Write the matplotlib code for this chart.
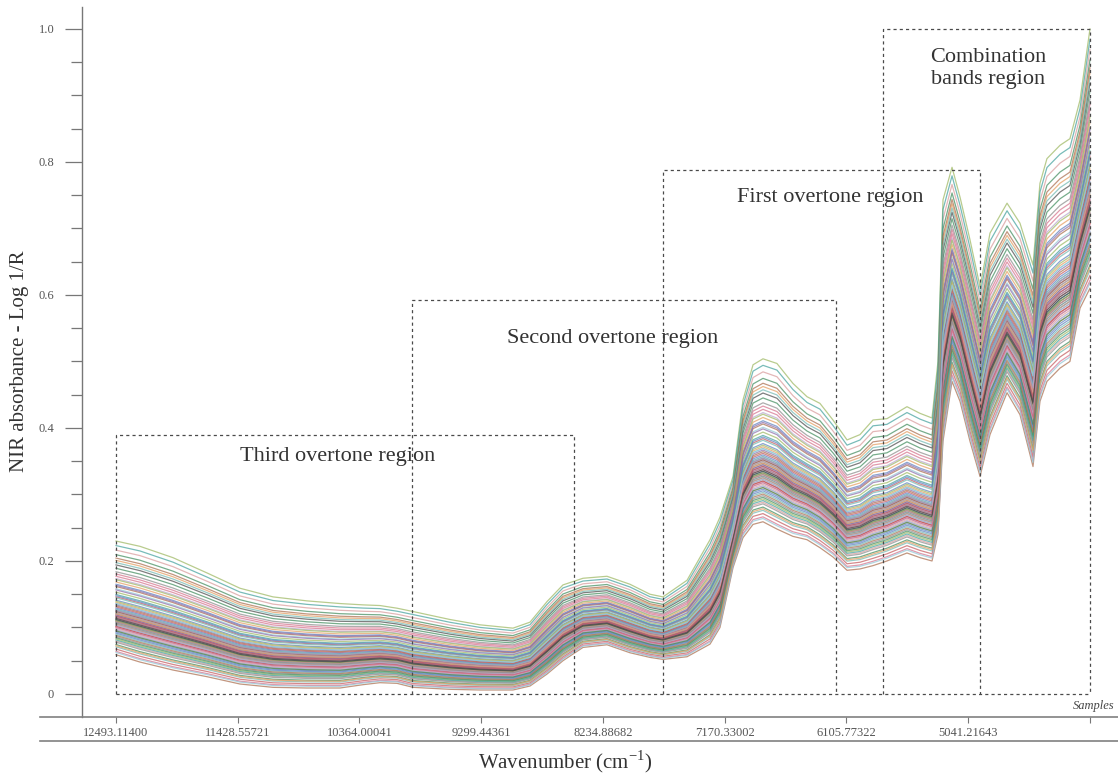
import matplotlib
matplotlib.use("Agg")
import numpy as np
import matplotlib.pyplot as plt
from matplotlib.lines import Line2D

plt.rcParams['font.family'] = ['Liberation Serif', 'DejaVu Serif']
plt.rcParams['mathtext.fontset'] = 'custom'
plt.rcParams['mathtext.rm'] = 'Liberation Serif'

# spectra knots (cm-1 / absorbance)
wavenumber = [12493, 12283, 11995, 11697, 11409, 11120, 10823, 10535, 10333, 10185,
              10036, 9896, 9573, 9310, 9022, 8873, 8724, 8585, 8410, 8200,
              7999, 7824, 7710, 7500, 7299, 7212, 7098, 7011, 6923, 6836,
              6714, 6574, 6451, 6338, 6224, 6101, 5988, 5874, 5752, 5577,
              5463, 5358, 5306, 5262, 5183, 5113, 5026, 4938, 4851, 4702,
              4589, 4475, 4414, 4353, 4239, 4152, 4064, 3977]
high_spectrum = [0.230, 0.222, 0.205, 0.182, 0.159, 0.146, 0.140, 0.136, 0.134, 0.133,
                 0.129, 0.124, 0.112, 0.104, 0.099, 0.108, 0.139, 0.164, 0.174, 0.177,
                 0.165, 0.150, 0.146, 0.171, 0.232, 0.266, 0.327, 0.442, 0.495, 0.504,
                 0.497, 0.467, 0.447, 0.437, 0.412, 0.382, 0.390, 0.412, 0.414, 0.432,
                 0.422, 0.415, 0.500, 0.743, 0.792, 0.747, 0.683, 0.612, 0.693, 0.738,
                 0.708, 0.645, 0.768, 0.805, 0.825, 0.835, 0.893, 1.000]
low_spectrum = [0.059, 0.048, 0.036, 0.026, 0.015, 0.010, 0.009, 0.009, 0.014, 0.017,
                0.016, 0.010, 0.007, 0.006, 0.006, 0.012, 0.030, 0.050, 0.070, 0.074,
                0.062, 0.055, 0.052, 0.056, 0.075, 0.100, 0.190, 0.235, 0.255, 0.259,
                0.248, 0.237, 0.232, 0.220, 0.206, 0.186, 0.188, 0.193, 0.200, 0.212,
                0.205, 0.200, 0.240, 0.380, 0.470, 0.440, 0.380, 0.327, 0.390, 0.453,
                0.420, 0.342, 0.440, 0.470, 0.490, 0.500, 0.580, 0.610]

# relative level of each sample between the lowest and highest spectrum
sample_level = [0.31, 0.05, 0.62, 0.27, 0.44, 0.12, 0.83, 0.36, 0.22, 0.55,
                0.29, 0.00, 0.40, 0.18, 0.71, 0.33, 0.25, 0.48, 0.09, 0.38,
                0.92, 0.21, 0.35, 0.58, 0.14, 0.30, 0.43, 0.67, 0.26, 0.03,
                0.37, 0.51, 0.19, 0.76, 0.34, 0.23, 0.46, 0.16, 0.28, 1.00,
                0.39, 0.60, 0.24, 0.07, 0.32, 0.53, 0.42, 0.20, 0.88, 0.35,
                0.27, 0.64, 0.11, 0.45, 0.30, 0.79, 0.38, 0.22, 0.50, 0.33,
                0.96, 0.25, 0.41, 0.15, 0.57, 0.29, 0.36, 0.73, 0.02, 0.47,
                0.31, 0.85, 0.26, 0.40, 0.69, 0.13, 0.34, 0.52, 0.21, 0.61,
                0.37, 0.08, 0.28, 0.45, 0.66, 0.32, 0.17, 0.39, 0.81, 0.24]

tick_wavenumbers = [12493.11400, 11428.55721, 10364.00041, 9299.44361,
                    8234.88682, 7170.33002, 6105.77322, 5041.21643]
tick_labels = ['12493.11400', '11428.55721', '10364.00041', '9299.44361',
               '8234.88682', '7170.33002', '6105.77322', '5041.21643']
end_wavenumber = 3976.65963

region_names = ['Third overtone region', 'Second overtone region',
                'First overtone region', 'Combination\nbands region']
region_left = [12493, 9905, 7710, 5787]
region_right = [8488, 6197, 4938, 3977]
region_top = [0.389, 0.592, 0.788, 1.0]

palette = ['#3f9f9b', '#c2575a', '#5a7fbf', '#3d8a5a', '#8a6aa8', '#d8999a',
           '#e39a5c', '#8a8a8a', '#8fc6d6', '#9bb65e', '#474747', '#a86a4a',
           '#b7a6cf', '#6fb7b0', '#d46f8a']

W, H = 1118, 778
fig = plt.figure(figsize=(W / 100, H / 100), dpi=100)
ax = fig.add_axes([82 / W, 1 - 717 / H, 1036 / W, 710 / H])

wn = np.array(wavenumber)
lo = np.array(low_spectrum)
hi = np.array(high_spectrum)
for i, f in enumerate(sample_level):
    ax.plot(wn, lo + f * (hi - lo), color=palette[i % len(palette)],
            lw=0.9, alpha=0.7, solid_joinstyle='round')

box_style = dict(color='#4a4a4a', lw=0.9, linestyle=(0, (2.5, 2.5)))
for left, right, top in zip(region_left, region_right, region_top):
    ax.plot([left, left, right, right], [0, top, top, 0], **box_style)
ax.plot([region_left[0], region_right[-1]], [0, 0], **box_style)

text_kw = dict(ha='center', va='center', fontsize=16, color='#333333')
ax.text(10552, 0.357, region_names[0], **text_kw)
ax.text(8147, 0.535, region_names[1], **text_kw)
ax.text(6250, 0.746, region_names[2], **text_kw)
ax.text(4868, 0.941, region_names[3], linespacing=1.2, **text_kw)

ax.set_xlim(12790.4, 3731.8)
ax.set_ylim(-0.0346, 1.033)
ax.set_xticks(tick_wavenumbers)
ax.set_xticklabels(tick_labels)
ax.set_xticks([end_wavenumber], minor=True)
ax.set_yticks([0, 0.2, 0.4, 0.6, 0.8, 1.0])
ax.set_yticklabels(['0', '0.2', '0.4', '0.6', '0.8', '1.0'])
ax.set_yticks(np.arange(0, 1.01, 0.05), minor=True)
ax.tick_params(axis='y', which='major', length=12, width=0.9, color='#777777',
               labelsize=9, labelcolor='#555555', pad=8)
ax.tick_params(axis='y', which='minor', length=8, width=0.9, color='#777777')
ax.tick_params(axis='x', which='both', length=4, width=0.8, color='#777777',
               labelsize=9, labelcolor='#555555', pad=3)

for s in ['top', 'right', 'bottom']:
    ax.spines[s].set_visible(False)
ax.spines['left'].set_color('#777777')
ax.spines['left'].set_linewidth(1.0)

fig.add_artist(Line2D([40 / W, 1], [1 - 717 / H] * 2, transform=fig.transFigure,
                      color='#808080', lw=1.2))
fig.add_artist(Line2D([40 / W, 1], [1 - 741 / H] * 2, transform=fig.transFigure,
                      color='#808080', lw=1.2))

fig.text(1114 / W, 1 - 706 / H, 'Samples', ha='right', va='center',
         fontsize=9, style='italic', color='#444444')
fig.text(565 / W, 1 - 762 / H, r'Wavenumber (cm$^{-1}$)', ha='center', va='center',
         fontsize=15, color='#333333')
fig.text(20 / W, 1 - 361 / H, 'NIR absorbance - Log 1/R', ha='center', va='center',
         rotation=90, fontsize=15, color='#333333')

fig.savefig('out.png', dpi=100, facecolor='white')
